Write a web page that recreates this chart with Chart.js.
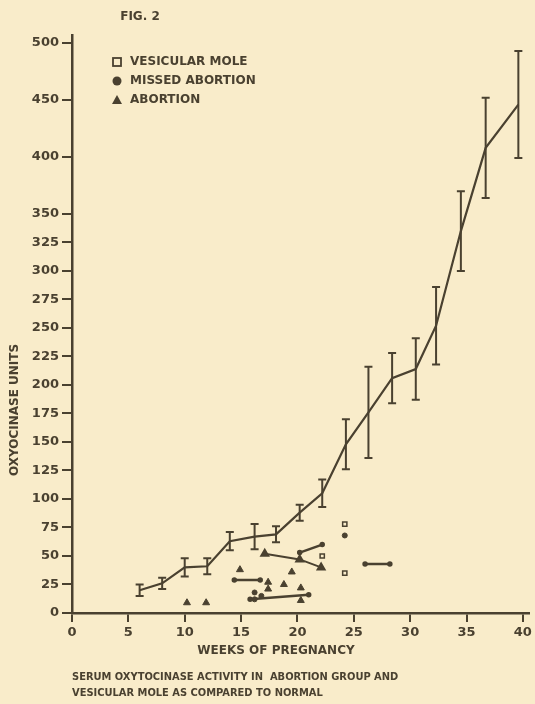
<!DOCTYPE html>
<html>
<head>
<meta charset="utf-8">
<title>Fig. 2</title>
<script src="https://cdn.jsdelivr.net/npm/chart.js@4/dist/chart.umd.min.js"></script>
<style>
  html, body { margin: 0; padding: 0; background: #f9ecca; }
  #chart { display: block; }
</style>
</head>
<body>
<canvas id="chart" width="535" height="704"></canvas>
<script>
// normal pregnancy: mean and range
const normalWeeks = [6, 8, 10, 12, 14, 16.2, 18.1, 20.2, 22.2, 24.3, 26.3, 28.4, 30.5, 32.3, 34.5, 36.7, 39.6];
const normalMean  = [20, 26, 40, 41, 63, 67, 69, 88, 105, 148, 176, 206, 214, 252, 335, 408, 446];
const normalErr   = [5, 5, 8, 7, 8, 11, 7, 7, 12, 22, 40, 22, 27, 34, 35, 44, 47];

// abortion (single values)
const abortionWeeks = [10.2, 11.9, 14.9, 17.4, 17.4, 18.8, 19.5, 20.3, 20.3];
const abortionUnits = [9, 9, 38, 27, 21, 25, 36, 22, 11];

// abortion followed in time
const abortionSeriesWeeks = [17.1, 20.2, 22.1];
const abortionSeriesUnits = [52, 47, 40];

// missed abortion
const missedWeeks = [16.2, 16.2, 16.8, 24.2];
const missedUnits = [18, 12, 15, 68];

// paired determinations
const pairWeeks = [[14.4, 16.7], [20.2, 22.2], [15.8, 21], [26, 28.2]];
const pairUnits = [[29, 29], [53, 60], [12, 16], [43, 43]];

// vesicular mole
const moleWeeks = [22.2, 24.2, 24.2];
const moleUnits = [50, 78, 35];

const xTicks = [0, 5, 10, 15, 20, 25, 30, 35, 40];
const yTicks = [0, 25, 50, 75, 100, 125, 150, 175, 200, 225, 250, 275, 300, 325, 350, 400, 450, 500];

const ink = "#4a4130";
const paper = "#f9ecca";

const toPoints = (xs, ys) => xs.map((x, i) => ({ x: x, y: ys[i] }));

const datasets = [
  {
    label: "Normal",
    type: "line",
    data: toPoints(normalWeeks, normalMean),
    borderColor: ink,
    borderWidth: 2.2,
    pointRadius: 0,
    tension: 0
  },
  {
    label: "Abortion series",
    type: "line",
    data: toPoints(abortionSeriesWeeks, abortionSeriesUnits),
    borderColor: ink,
    borderWidth: 2,
    pointStyle: "triangle",
    pointRadius: 4,
    pointBackgroundColor: ink,
    pointBorderColor: ink,
    tension: 0
  },
  {
    label: "Abortion",
    type: "scatter",
    data: toPoints(abortionWeeks, abortionUnits),
    pointStyle: "triangle",
    pointRadius: 4,
    backgroundColor: ink,
    borderColor: ink
  },
  {
    label: "Missed abortion",
    type: "scatter",
    data: toPoints(missedWeeks, missedUnits),
    pointStyle: "circle",
    pointRadius: 2.5,
    backgroundColor: ink,
    borderColor: ink
  },
  {
    label: "Vesicular mole",
    type: "scatter",
    data: toPoints(moleWeeks, moleUnits),
    pointStyle: "rect",
    pointRadius: 3,
    borderWidth: 1.5,
    backgroundColor: paper,
    borderColor: ink
  }
];

pairWeeks.forEach((xs, i) => {
  datasets.push({
    label: "Pair " + (i + 1),
    type: "line",
    data: toPoints(xs, pairUnits[i]),
    borderColor: ink,
    borderWidth: 2.5,
    pointRadius: 1.5,
    pointBackgroundColor: ink,
    pointBorderColor: ink
  });
});

// error bars of the normal curve
const errorBars = {
  id: "errorBars",
  beforeDatasetsDraw(chart) {
    const ctx = chart.ctx;
    const sx = chart.scales.x;
    const sy = chart.scales.y;
    ctx.save();
    ctx.strokeStyle = ink;
    ctx.lineWidth = 2;
    normalWeeks.forEach((w, i) => {
      const px = sx.getPixelForValue(w);
      const top = sy.getPixelForValue(normalMean[i] + normalErr[i]);
      const bot = sy.getPixelForValue(normalMean[i] - normalErr[i]);
      ctx.beginPath();
      ctx.moveTo(px, top); ctx.lineTo(px, bot);
      ctx.moveTo(px - 4, top); ctx.lineTo(px + 4, top);
      ctx.moveTo(px - 4, bot); ctx.lineTo(px + 4, bot);
      ctx.stroke();
    });
    ctx.restore();
  }
};

// figure texts and legend
const texts = {
  id: "texts",
  beforeDraw(chart) {
    const ctx = chart.ctx;
    ctx.save();
    ctx.fillStyle = paper;
    ctx.fillRect(0, 0, chart.width, chart.height);
    ctx.restore();
  },
  afterDraw(chart) {
    const ctx = chart.ctx;
    ctx.save();
    ctx.fillStyle = ink;
    ctx.strokeStyle = ink;
    ctx.textBaseline = "middle";

    ctx.font = "bold 12px 'DejaVu Sans'";
    ctx.textAlign = "center";
    ctx.fillText("FIG. 2", 140, 17);

    // legend
    ctx.textAlign = "left";
    ctx.fillText("VESICULAR MOLE", 130, 62);
    ctx.fillText("MISSED ABORTION", 130, 81);
    ctx.fillText("ABORTION", 130, 100);
    ctx.lineWidth = 1.8;
    ctx.strokeRect(113, 58, 8, 8);
    ctx.beginPath();
    ctx.arc(117, 81, 4.5, 0, Math.PI * 2);
    ctx.fill();
    ctx.beginPath();
    ctx.moveTo(117, 95); ctx.lineTo(122, 104); ctx.lineTo(112, 104);
    ctx.closePath();
    ctx.fill();

    // axis titles
    ctx.textAlign = "center";
    ctx.fillText("WEEKS OF PREGNANCY", 276, 651);
    ctx.save();
    ctx.translate(15, 410);
    ctx.rotate(-Math.PI / 2);
    ctx.fillText("OXYOCINASE UNITS", 0, 0);
    ctx.restore();

    // caption
    ctx.textAlign = "left";
    ctx.font = "bold 11px 'DejaVu Sans Condensed', 'DejaVu Sans'";
    ctx.fillText("SERUM OXYTOCINASE ACTIVITY IN  ABORTION GROUP AND", 72, 677);
    ctx.fillText("VESICULAR MOLE AS COMPARED TO NORMAL", 72, 693);
    ctx.restore();
  }
};

new Chart(document.getElementById("chart"), {
  type: "scatter",
  data: { datasets: datasets },
  options: {
    responsive: false,
    animation: false,
    layout: { padding: { left: 0, top: 35, right: 5, bottom: 0 } },
    plugins: {
      legend: { display: false },
      tooltip: { enabled: false }
    },
    scales: {
      x: {
        type: "linear",
        min: 0,
        max: 40.5,
        afterBuildTicks: (scale) => { scale.ticks = xTicks.map(v => ({ value: v })); },
        afterFit: (scale) => { scale.height = 91; },
        grid: { drawOnChartArea: false, color: ink, lineWidth: 2, tickLength: 9 },
        border: { color: ink, width: 2.5 },
        ticks: { color: ink, padding: 3, maxRotation: 0, font: { family: "DejaVu Sans", size: 13, weight: "bold" } }
      },
      y: {
        type: "linear",
        min: 0,
        max: 507,
        afterBuildTicks: (scale) => { scale.ticks = yTicks.map(v => ({ value: v })); },
        afterFit: (scale) => { scale.width = 72; },
        grid: { drawOnChartArea: false, color: ink, lineWidth: 2, tickLength: 10 },
        border: { color: ink, width: 2.5 },
        ticks: { color: ink, padding: 3, font: { family: "DejaVu Sans", size: 13, weight: "bold" } }
      }
    }
  },
  plugins: [errorBars, texts]
});
</script>
</body>
</html>
